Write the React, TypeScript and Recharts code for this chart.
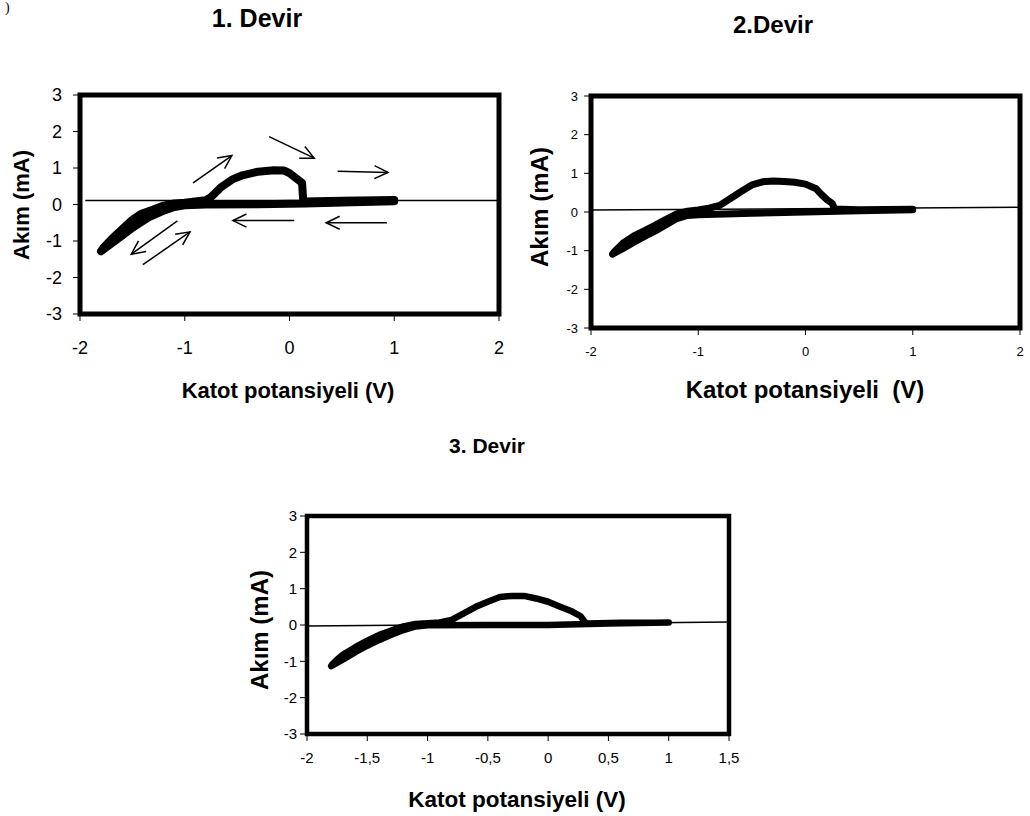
import React from "react";
import { ComposedChart, Line, XAxis, YAxis, ReferenceArea, ReferenceLine } from "recharts";

// 1. Devir - one closed sweep, starting at +1 V going negative
const c1Volt = [1.0, 0.6, 0.15, -0.3, -0.8, -1.0, -1.1, -1.2, -1.35, -1.5, -1.6, -1.7, -1.8, -1.78, -1.7, -1.6, -1.5, -1.42, -1.38, -1.3, -1.2, -1.1, -1.0, -0.8, -0.75, -0.65, -0.55, -0.45, -0.3, -0.15, -0.05, 0.0, 0.08, 0.12, 0.13, 0.14, 0.5, 1.0];
const c1Curr = [0.09, 0.06, 0.03, 0.01, 0.0, -0.02, -0.07, -0.17, -0.36, -0.64, -0.86, -1.07, -1.28, -1.2, -0.95, -0.68, -0.42, -0.26, -0.22, -0.14, -0.03, 0.03, 0.05, 0.12, 0.2, 0.48, 0.68, 0.8, 0.9, 0.94, 0.93, 0.86, 0.68, 0.59, 0.14, 0.08, 0.1, 0.12];
const t1Volt = [-1.95, 2];
const t1Curr = [0.11, 0.11];

// arrows drawn on the first cycle (from -> to)
const arrFromV = [-0.92, -0.195, 0.46, 0.045, 0.93, -1.07, -1.4];
const arrFromI = [0.59, 1.86, 0.91, -0.44, -0.5, -0.45, -1.65];
const arrToV = [-0.55, 0.236, 0.94, -0.54, 0.35, -1.51, -0.95];
const arrToI = [1.34, 1.27, 0.88, -0.44, -0.5, -1.36, -0.75];

// 2.Devir
const c2Volt = [1.0, 0.5, 0.0, -0.5, -1.0, -1.1, -1.2, -1.3, -1.4, -1.5, -1.6, -1.7, -1.8, -1.78, -1.7, -1.6, -1.5, -1.4, -1.3, -1.2, -1.1, -1.0, -0.9, -0.8, -0.7, -0.6, -0.5, -0.4, -0.3, -0.2, -0.1, 0.0, 0.1, 0.15, 0.2, 0.25, 0.27, 0.5, 1.0];
const c2Curr = [0.06, 0.03, 0.0, -0.03, -0.07, -0.09, -0.17, -0.33, -0.49, -0.63, -0.78, -0.94, -1.09, -1.02, -0.8, -0.62, -0.48, -0.34, -0.19, -0.05, 0.02, 0.05, 0.1, 0.17, 0.35, 0.53, 0.7, 0.78, 0.8, 0.79, 0.77, 0.72, 0.6, 0.45, 0.32, 0.22, 0.08, 0.06, 0.07];
const t2Volt = [-2, 2];
const t2Curr = [0.05, 0.12];

// 3. Devir
const c3Volt = [1.0, 0.5, 0.0, -0.5, -1.0, -1.1, -1.2, -1.3, -1.4, -1.5, -1.6, -1.7, -1.8, -1.79, -1.75, -1.7, -1.6, -1.5, -1.4, -1.3, -1.2, -1.1, -1.0, -0.9, -0.8, -0.7, -0.6, -0.5, -0.4, -0.3, -0.2, -0.1, 0.0, 0.1, 0.2, 0.27, 0.3, 0.32, 0.6, 1.0];
const c3Curr = [0.07, 0.04, 0.0, 0.0, -0.01, -0.04, -0.14, -0.27, -0.41, -0.57, -0.75, -0.95, -1.13, -1.08, -0.95, -0.81, -0.61, -0.43, -0.27, -0.15, -0.04, 0.03, 0.05, 0.07, 0.14, 0.32, 0.5, 0.64, 0.77, 0.8, 0.8, 0.73, 0.64, 0.5, 0.37, 0.24, 0.1, 0.04, 0.06, 0.07];
const t3Volt = [-2, 1.5];
const t3Curr = [-0.03, 0.08];

const yTicks = [-3, -2, -1, 0, 1, 2, 3];
const xTicks12 = [-2, -1, 0, 1, 2];
const xTicks3 = [-2, -1.5, -1, -0.5, 0, 0.5, 1, 1.5];

const FONT = '"Liberation Sans", Arial, sans-serif';

const toPoints = (xs: number[], ys: number[]) => xs.map((x, i) => ({ x, y: ys[i] }));

function ArrowShape(props: any) {
  const { x1, y1, x2, y2 } = props;
  const ang = Math.atan2(y2 - y1, x2 - x1);
  const len = 15;
  const spread = 0.45;
  const ax = x2 - len * Math.cos(ang - spread);
  const ay = y2 - len * Math.sin(ang - spread);
  const bx = x2 - len * Math.cos(ang + spread);
  const by = y2 - len * Math.sin(ang + spread);
  return (
    <g>
      <line x1={x1} y1={y1} x2={x2} y2={y2} stroke="#000" strokeWidth={1.5} />
      <polyline points={`${ax},${ay} ${x2},${y2} ${bx},${by}`} fill="none" stroke="#000" strokeWidth={1.5} />
    </g>
  );
}

type PanelProps = {
  left: number;
  top: number;
  width: number;
  height: number;
  margin: { top: number; right: number; bottom: number; left: number };
  yAxisWidth: number;
  xDomain: [number, number];
  xTicks: number[];
  fontSize: number;
  xTickMargin: number;
  yTickMargin: number;
  curve: { x: number; y: number }[];
  trend: { x: number; y: number }[];
  curveWidth: number;
  boxWidth: number;
  arrows?: boolean;
  comma?: boolean;
};

function Panel(p: PanelProps) {
  const tick = { fill: "#000", fontSize: p.fontSize, fontFamily: FONT };
  return (
    <div style={{ position: "absolute", left: p.left, top: p.top }}>
      <ComposedChart width={p.width} height={p.height} margin={p.margin}>
        <XAxis
          type="number"
          dataKey="x"
          domain={p.xDomain}
          ticks={p.xTicks}
          allowDataOverflow
          axisLine={false}
          tickLine={{ stroke: "#000", strokeWidth: 1 }}
          tickSize={7}
          tickMargin={p.xTickMargin}
          tick={tick}
          height={30}
          interval={0}
          tickFormatter={(v: number) => (p.comma ? String(v).replace(".", ",") : String(v))}
        />
        <YAxis
          type="number"
          domain={[-3, 3]}
          ticks={yTicks}
          allowDataOverflow
          axisLine={false}
          tickLine={{ stroke: "#000", strokeWidth: 1 }}
          tickSize={7}
          tickMargin={p.yTickMargin}
          tick={tick}
          width={p.yAxisWidth}
          interval={0}
        />
        <ReferenceArea
          x1={p.xDomain[0]}
          x2={p.xDomain[1]}
          y1={-3}
          y2={3}
          fill="none"
          stroke="#000"
          strokeWidth={p.boxWidth}
          ifOverflow="visible"
        />
        <Line
          data={p.trend}
          dataKey="y"
          stroke="#000"
          strokeWidth={1.5}
          dot={false}
          isAnimationActive={false}
        />
        <Line
          data={p.curve}
          dataKey="y"
          stroke="#000"
          strokeWidth={p.curveWidth}
          strokeLinecap="round"
          strokeLinejoin="round"
          dot={false}
          isAnimationActive={false}
        />
        {p.arrows &&
          arrFromV.map((v, i) => (
            <ReferenceLine
              key={`arr-${i}`}
              segment={[
                { x: v, y: arrFromI[i] },
                { x: arrToV[i], y: arrToI[i] },
              ]}
              ifOverflow="visible"
              shape={ArrowShape}
            />
          ))}
      </ComposedChart>
    </div>
  );
}

export default function App() {
  const bold = { fontFamily: FONT, fontWeight: 700, fill: "#000" };
  return (
    <div style={{ position: "absolute", left: 0, top: 0, width: 1030, height: 816, background: "#fff" }}>
      <Panel
        left={0}
        top={0}
        width={520}
        height={420}
        margin={{ top: 95, right: 21, bottom: 76, left: 0 }}
        yAxisWidth={80}
        xDomain={[-2, 2]}
        xTicks={xTicks12}
        fontSize={18}
        xTickMargin={20}
        yTickMargin={11}
        curve={toPoints(c1Volt, c1Curr)}
        trend={toPoints(t1Volt, t1Curr)}
        curveWidth={8}
        boxWidth={5}
        arrows
      />
      <Panel
        left={520}
        top={0}
        width={510}
        height={420}
        margin={{ top: 96, right: 10, bottom: 62, left: 0 }}
        yAxisWidth={71}
        xDomain={[-2, 2]}
        xTicks={xTicks12}
        fontSize={13}
        xTickMargin={12}
        yTickMargin={6}
        curve={toPoints(c2Volt, c2Curr)}
        trend={toPoints(t2Volt, t2Curr)}
        curveWidth={7}
        boxWidth={5}
      />
      <Panel
        left={250}
        top={420}
        width={550}
        height={396}
        margin={{ top: 96, right: 71, bottom: 52, left: 0 }}
        yAxisWidth={57}
        xDomain={[-2, 1.5]}
        xTicks={xTicks3}
        fontSize={15}
        xTickMargin={11}
        yTickMargin={3}
        curve={toPoints(c3Volt, c3Curr)}
        trend={toPoints(t3Volt, t3Curr)}
        curveWidth={6.5}
        boxWidth={4.5}
        comma
      />
      <svg width={1030} height={816} style={{ position: "absolute", left: 0, top: 0, pointerEvents: "none" }}>
        <text x={5} y={12} fontFamily="'Liberation Serif', serif" fontSize={14} fill="#000">)</text>

        <text x={257} y={27} textAnchor="middle" fontSize={25} {...bold}>1. Devir</text>
        <text x={288} y={398} textAnchor="middle" fontSize={22} {...bold}>Katot potansiyeli (V)</text>
        <text transform="translate(29,205) rotate(-90)" textAnchor="middle" fontSize={22} {...bold}>Akım (mA)</text>

        <text x={773} y={33} textAnchor="middle" fontSize={24} {...bold}>2.Devir</text>
        <text x={805} y={398} textAnchor="middle" fontSize={24} style={{ whiteSpace: "pre" }} {...bold}>Katot potansiyeli  (V)</text>
        <text transform="translate(548,207) rotate(-90)" textAnchor="middle" fontSize={24} {...bold}>Akım (mA)</text>

        <text x={487} y={453} textAnchor="middle" fontSize={21} {...bold}>3. Devir</text>
        <text x={517} y={807} textAnchor="middle" fontSize={22.5} {...bold}>Katot potansiyeli (V)</text>
        <text transform="translate(268,630) rotate(-90)" textAnchor="middle" fontSize={24} {...bold}>Akım (mA)</text>
      </svg>
    </div>
  );
}
